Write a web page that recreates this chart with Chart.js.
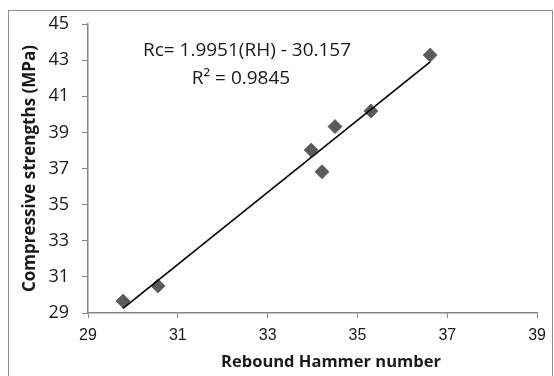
<!DOCTYPE html>
<html>
<head>
<meta charset="utf-8">
<script src="https://cdn.jsdelivr.net/npm/chart.js@4.4.1/dist/chart.umd.min.js"></script>
<style>
  html, body { margin: 0; padding: 0; background: #fff; }
  #wrap { position: relative; width: 554px; height: 376px; overflow: hidden; }
  #frame { position: absolute; left: 8px; top: 10px; width: 545px; height: 400px; border: 1px solid #8c8c8c; box-sizing: border-box; }
  canvas { position: absolute; left: 0; top: 0; }
</style>
</head>
<body>
<div id="wrap">
  <div id="frame"></div>
  <canvas id="chart" width="554" height="376"></canvas>
</div>
<script>
// measured points: rebound hammer number vs compressive strength
const reboundHammer = [29.78, 30.56, 33.97, 34.21, 34.5, 35.3, 36.62];
const strengthMPa = [29.66, 30.5, 38.02, 36.82, 39.32, 40.18, 43.28];

// linear fit printed on the chart
const fitSlope = 1.9951;
const fitIntercept = -30.157;
const equationLines = ['Rc= 1.9951(RH) - 30.157', 'R\u00b2 = 0.9845'];

const xTicks = [29, 31, 33, 35, 37, 39];
const yTicks = [29, 31, 33, 35, 37, 39, 41, 43, 45];

const xTitle = 'Rebound Hammer number';
const yTitle = 'Compressive strengths (MPa)';

const points = reboundHammer.map((x, i) => ({ x: x, y: strengthMPa[i] }));
const xMin = Math.min(...reboundHammer);
const xMax = Math.max(...reboundHammer);
const trend = [xMin, xMax].map(x => ({ x: x, y: fitSlope * x + fitIntercept }));

const axisGrey = '#868686';

// equation text and x-axis title
const textPlugin = {
    id: 'textPlugin',
    afterDraw(chart) {
        const ctx = chart.ctx;
        ctx.save();
        ctx.fillStyle = '#1a1a1a';
        ctx.textAlign = 'center';
        ctx.textBaseline = 'middle';
        ctx.font = '19px "Open Sans"';
        ctx.fillText(equationLines[0], 247, 51);
        ctx.fillText(equationLines[1], 241, 79);
        ctx.font = 'bold 16.5px "Open Sans"';
        ctx.fillText(xTitle, 331, 362);
        ctx.restore();
    }
};

const ctx = document.getElementById('chart').getContext('2d');
new Chart(ctx, {
    type: 'scatter',
    data: {
        datasets: [
            {
                label: 'Trend',
                type: 'line',
                data: trend,
                borderColor: '#000',
                borderWidth: 1.6,
                pointRadius: 0,
                fill: false
            },
            {
                label: 'Data',
                data: points,
                pointStyle: 'rectRot',
                pointRadius: 7,
                pointHoverRadius: 7,
                backgroundColor: '#5b5b5b',
                borderColor: '#666',
                borderWidth: 1
            }
        ]
    },
    options: {
        responsive: false,
        animation: false,
        events: [],
        layout: { padding: { top: 24, right: 16, left: 0, bottom: 0 } },
        plugins: {
            legend: { display: false },
            tooltip: { enabled: false }
        },
        scales: {
            x: {
                type: 'linear',
                min: 29,
                max: 39,
                afterBuildTicks: s => { s.ticks = xTicks.map(v => ({ value: v })); },
                afterFit: s => { s.height = 63; },
                border: { color: axisGrey, width: 1.5 },
                grid: { drawOnChartArea: false, drawTicks: true, tickLength: 5, color: axisGrey },
                ticks: { color: '#1a1a1a', padding: 8, font: { family: 'Liberation Sans', size: 16 } }
            },
            y: {
                type: 'linear',
                min: 29,
                max: 45,
                afterBuildTicks: s => { s.ticks = yTicks.map(v => ({ value: v })); },
                afterFit: s => { s.width = 88; },
                border: { color: axisGrey, width: 1.5 },
                grid: { drawOnChartArea: false, drawTicks: true, tickLength: 6, color: axisGrey },
                ticks: { color: '#1a1a1a', padding: 13, font: { family: 'Open Sans', size: 18 } },
                title: {
                    display: true,
                    text: yTitle,
                    color: '#1a1a1a',
                    padding: { top: 20, bottom: 0 },
                    font: { family: 'Open Sans', size: 17, weight: 'bold' }
                }
            }
        }
    },
    plugins: [textPlugin]
});
</script>
</body>
</html>
